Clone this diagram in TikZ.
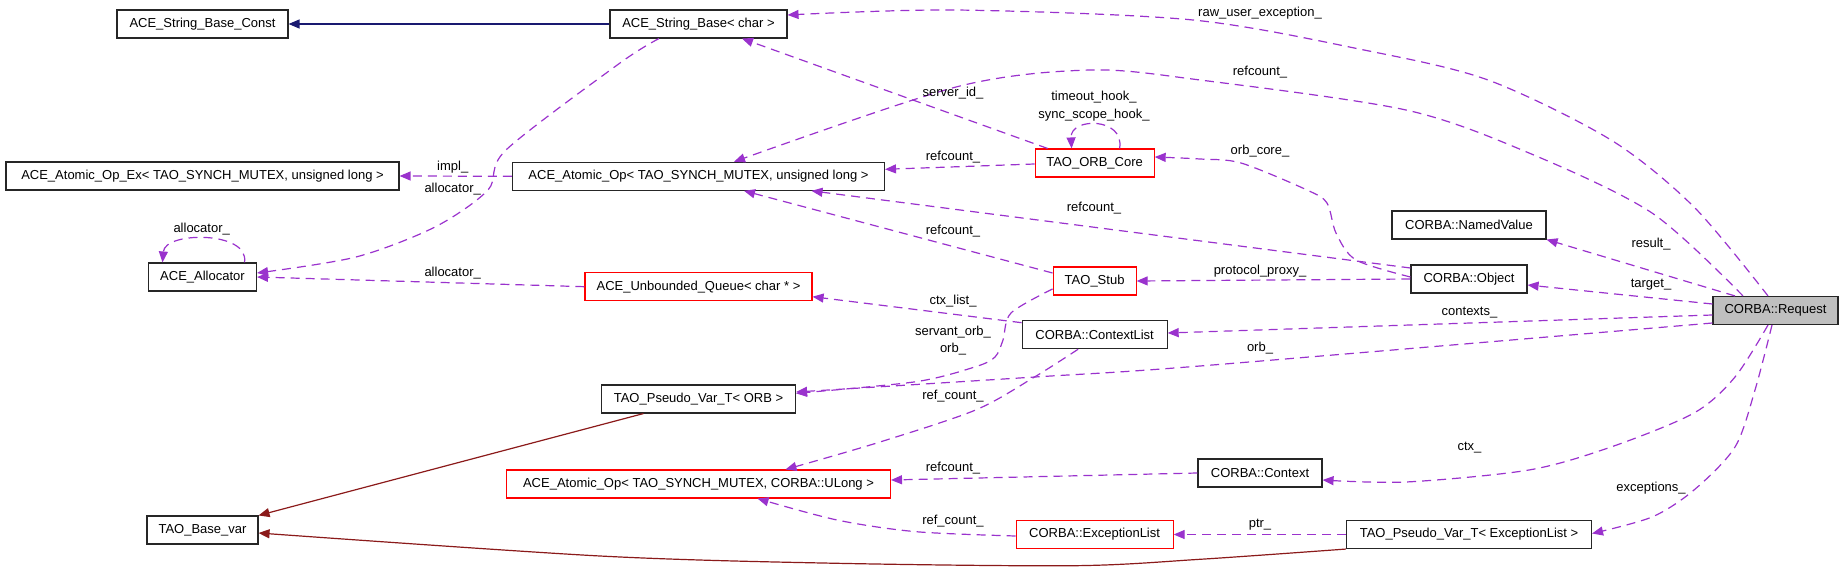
\documentclass[tikz,border=0pt]{standalone}
\usepackage{fontspec}
\setmainfont{Liberation Sans}
\usetikzlibrary{arrows.meta}
\definecolor{usecol}{HTML}{9A32CD}
\definecolor{basecol}{HTML}{191970}
\definecolor{varcol}{HTML}{8B1A1A}
\definecolor{reqfill}{HTML}{BFBFBF}
\tikzset{
  cls/.style={draw=black!85,line width=1.1pt,minimum height=28pt,inner sep=0pt,font=\fontsize{13}{15}\selectfont},
  redcls/.style={cls,draw=red,line width=1.1pt},
  lbl/.style={inner sep=0pt,font=\fontsize{13}{15}\selectfont},
  member/.style={draw=usecol,line width=1.2pt,dash pattern=on 9pt off 6pt,-{Triangle[length=11pt,width=9pt]}},
  inherit/.style={line width=1.2pt,-{Triangle[length=11pt,width=9pt]}},
}
\begin{document}
\begin{tikzpicture}[x=1pt,y=-1pt]
        \useasboundingbox (0,0) rectangle (1845,572);
        \def\ca{202.5} \def\cb{698.5} \def\cc{1094.6} \def\cd{1469}

        % classes
        \node[cls,minimum width=171] (strconst) at (\ca,24) {ACE\_String\_Base\_Const};
        \node[cls,minimum width=393] (atomicex) at (\ca,176) {ACE\_Atomic\_Op\_Ex< TAO\_SYNCH\_MUTEX, unsigned long >};
        \node[cls,minimum width=108] (alloc) at (\ca,277) {ACE\_Allocator};
        \node[cls,minimum width=111] (basevar) at (\ca,530) {TAO\_Base\_var};
        \node[cls,minimum width=177] (strbase) at (\cb,24) {ACE\_String\_Base< char >};
        \node[cls,minimum width=372] (atomic) at (\cb,176.3) {ACE\_Atomic\_Op< TAO\_SYNCH\_MUTEX, unsigned long >};
        \node[redcls,minimum width=227] (queue) at (\cb,286.7) {ACE\_Unbounded\_Queue< char * >};
        \node[cls,minimum width=194] (pseudoorb) at (\cb,399) {TAO\_Pseudo\_Var\_T< ORB >};
        \node[redcls,minimum width=384] (atomicul) at (\cb,484) {ACE\_Atomic\_Op< TAO\_SYNCH\_MUTEX, CORBA::ULong >};
        \node[redcls,minimum width=119] (orbcore) at (\cc,163) {TAO\_ORB\_Core};
        \node[redcls,minimum width=83] (stub) at (\cc,281) {TAO\_Stub};
        \node[cls,minimum width=145] (ctxlist) at (\cc,334.7) {CORBA::ContextList};
        \node[redcls,minimum width=157] (exclist) at (\cc,534.5) {CORBA::ExceptionList};
        \node[cls,minimum width=124] (context) at (1260,473) {CORBA::Context};
        \node[cls,minimum width=154] (namedvalue) at (\cd,225) {CORBA::NamedValue};
        \node[cls,minimum width=116] (object) at (\cd,279) {CORBA::Object};
        \node[cls,minimum width=245] (pseudoexc) at (\cd,534.5) {TAO\_Pseudo\_Var\_T< ExceptionList >};
        \node[cls,minimum width=125,fill=reqfill] (request) at (1775.5,310.5) {CORBA::Request};

        % inheritance
        \draw[inherit,basecol] (strbase.west) -- (strconst.east);
        \draw[inherit,varcol] ([xshift=-55pt]pseudoorb.south) -- (basevar.north east);
        \draw[inherit,varcol] plot[smooth] coordinates {(pseudoexc.south west) (1200,559.3) (1074.5,565.7) (837,563.3) (600,556) ([yshift=-3pt]basevar.east)};

        % members
        \draw[member] (atomic.west) -- (atomicex.east);
        \draw[member] plot[smooth] coordinates {([xshift=-39.5pt]strbase.south) (620,63) (506,150) (488,190) (435,227) (356,257) ([yshift=4pt]alloc.east)};
        \draw[member] ([xshift=42pt]alloc.north) .. controls (250,231) and (165,231) .. ([xshift=-40pt]alloc.north);
        \draw[member] (queue.west) -- (alloc.east);
        \draw[member] plot[smooth] coordinates {([xshift=-7.5pt]request.north) (1694,207) (1611,140) (1488,80) (1364,50) (1193,20) (956,10) ([yshift=9pt]strbase.east)};
        \draw[member] plot[smooth] coordinates {([xshift=-32.5pt]request.north) (1652,213) (1529,153) (1406,110) (1200,80) (1090,70) (956,87) ([xshift=35.5pt]atomic.north)};
        \draw[member] ([xshift=-47pt]orbcore.north) -- ([xshift=43.5pt]strbase.south);
        \draw[member] ([xshift=25pt]orbcore.north) .. controls (1125,117) and (1070,117) .. ([xshift=-23pt]orbcore.north);
        \draw[member] ([yshift=-1pt]orbcore.west) -- ([yshift=7pt]atomic.east);
        \draw[member] ([yshift=8pt]stub.west) -- ([xshift=45.5pt]atomic.south);
        \draw[member] ([yshift=11pt]object.west) -- ([xshift=113pt]atomic.south);
        \draw[member] plot[smooth] coordinates {([yshift=2pt]object.west) (1356,260) (1336,233) (1327,203) (1307,190) (1241,163) (1200,159) ([yshift=6pt]orbcore.east)};
        \draw[member] (object.west) -- (stub.east);
        \draw[member] ([xshift=-40.5pt]request.north) -- (namedvalue.south east);
        \draw[member] ([yshift=6.5pt]request.west) -- ([yshift=-6pt]object.east);
        \draw[member] ([yshift=-4.5pt]request.west) -- ([yshift=1.7pt]ctxlist.east);
        \draw[member] plot[smooth] coordinates {([yshift=-12.5pt]request.west) (1200,366) (1035,377) ([yshift=7pt]pseudoorb.east)};
        \draw[member] ([yshift=12pt]ctxlist.west) -- ([yshift=-10pt]queue.east);
        \draw[member] plot[smooth] coordinates {([yshift=-8pt]stub.west) (1011,313) (1003,340) (995,357) (975.6,366.7) (916,381.7) ([yshift=5.7pt]pseudoorb.east)};
        \draw[member] plot[smooth] coordinates {([xshift=-16.5pt]ctxlist.south) (1035,376.7) (975.6,410) (876.8,443) ([xshift=87pt]atomicul.north)};
        \draw[member] (context.west) -- ([yshift=4pt]atomicul.east);
        \draw[member] plot[smooth] coordinates {([yshift=-1.5pt]exclist.west) (916,531.7) (837,520) ([xshift=59pt]atomicul.south)};
        \draw[member] (pseudoexc.west) -- (exclist.east);
        \draw[member] plot[smooth] coordinates {([xshift=-7.5pt]request.south) (1735,377) (1694,413) (1611,447) (1529,470) (1406,482) ([yshift=-7pt]context.east)};
        \draw[member] plot[smooth] coordinates {([xshift=-3.5pt]request.south) (1755,390) (1735,447) (1694,490) (1652,517) ([yshift=1pt]pseudoexc.east)};

        % labels
        \node[lbl] (limpl) at (452.7,167) {impl\_};
        \node[lbl] (lalloca) at (452.7,189) {allocator\_};
        \node[lbl] (lallocself) at (201.7,229) {allocator\_};
        \node[lbl] (lallocb) at (452.7,273) {allocator\_};
        \node[lbl] (lraw) at (1260,13) {raw\_user\_exception\_};
        \node[lbl] (lrefa) at (1260,72) {refcount\_};
        \node[lbl] (lserver) at (953,93) {server\_id\_};
        \node[lbl] (ltimeout) at (1094,97) {timeout\_hook\_};
        \node[lbl] (lsync) at (1094,115) {sync\_scope\_hook\_};
        \node[lbl] (lrefb) at (953,157) {refcount\_};
        \node[lbl] (lorbcore) at (1260,151) {orb\_core\_};
        \node[lbl] (lrefc) at (1094,208) {refcount\_};
        \node[lbl] (lrefd) at (953,231) {refcount\_};
        \node[lbl] (lresult) at (1651,244) {result\_};
        \node[lbl] (lproxy) at (1260,271) {protocol\_proxy\_};
        \node[lbl] (ltarget) at (1651,285) {target\_};
        \node[lbl] (lctxlist) at (953,300.7) {ctx\_list\_};
        \node[lbl] (lcontexts) at (1469.5,312.7) {contexts\_};
        \node[lbl] (lservant) at (953,331.7) {servant\_orb\_};
        \node[lbl] (lorba) at (953,349) {orb\_};
        \node[lbl] (lorbb) at (1260,347.7) {orb\_};
        \node[lbl] (lrefcnta) at (953,396) {ref\_count\_};
        \node[lbl] (lctx) at (1469.5,447.7) {ctx\_};
        \node[lbl] (lrefe) at (953,467.7) {refcount\_};
        \node[lbl] (lexc) at (1651,487.7) {exceptions\_};
        \node[lbl] (lrefcntb) at (953,520.7) {ref\_count\_};
        \node[lbl] (lptr) at (1260,525) {ptr\_};
\end{tikzpicture}
\end{document}
